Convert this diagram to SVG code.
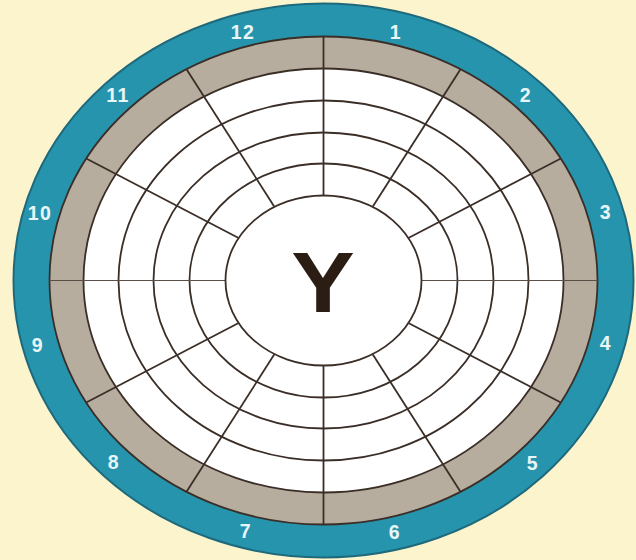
<svg xmlns="http://www.w3.org/2000/svg" width="636" height="560" viewBox="0 0 636 560">
<style>
.ring{fill:none;stroke:#3a2e27;stroke-width:1.8}
.wfill{fill:#ffffff;stroke:#3a2e27;stroke-width:1.8}
.rad line{stroke:#3a2e27;stroke-width:1.8}
.lbl{font-family:"Liberation Sans",Arial,sans-serif;font-weight:bold;font-size:19.5px;fill:#e8f6f7;text-anchor:middle;letter-spacing:1.5px}
</style>
<rect width="636" height="560" fill="#fcf4cd"/>
<g id="chart" transform="translate(323.5,280.5)">
  <ellipse id="teal-ring" rx="310" ry="277" fill="#2794ae" stroke="#1e6a7c" stroke-width="2"/>
  <ellipse id="gray-ring" rx="274" ry="244" fill="#b7ad9f" stroke="#3a2e27" stroke-width="1.8"/>
  <ellipse id="field" rx="240" ry="212" class="wfill"/>
  <ellipse rx="205" ry="180" class="ring"/>
  <ellipse rx="170" ry="148" class="ring"/>
  <ellipse rx="134" ry="117" class="ring"/>
  <g id="connectors" class="rad">
    <line x1="0" y1="-85" x2="0" y2="-244"/>
    <line x1="49" y1="-73.6" x2="137" y2="-211.3"/>
    <line x1="84.9" y1="-42.5" x2="237.3" y2="-122"/>
    <line x1="98" y1="0" x2="274" y2="0" style="stroke-width:1.1;stroke:#5a4f48"/>
    <line x1="84.9" y1="42.5" x2="237.3" y2="122"/>
    <line x1="49" y1="73.6" x2="137" y2="211.3"/>
    <line x1="0" y1="85" x2="0" y2="244"/>
    <line x1="-49" y1="73.6" x2="-137" y2="211.3"/>
    <line x1="-84.9" y1="42.5" x2="-237.3" y2="122"/>
    <line x1="-98" y1="0" x2="-274" y2="0" style="stroke-width:1.1;stroke:#5a4f48"/>
    <line x1="-84.9" y1="-42.5" x2="-237.3" y2="-122"/>
    <line x1="-49" y1="-73.6" x2="-137" y2="-211.3"/>
  </g>
  <g id="center">
    <ellipse rx="98" ry="85" class="wfill"/>
  </g>
</g>
<text id="center-label" transform="translate(323,312) scale(1.12,1)" x="0" y="0" font-family="'Liberation Sans',Arial,sans-serif" font-weight="bold" font-size="85" fill="#2b1c14" text-anchor="middle">Y</text>
<g id="labels" class="lbl">
  <g id="s1"><text x="396" y="38.5">1</text></g>
  <g id="s2"><text x="526" y="102">2</text></g>
  <g id="s3"><text x="606" y="219">3</text></g>
  <g id="s4"><text x="606" y="350">4</text></g>
  <g id="s5"><text x="533" y="470">5</text></g>
  <g id="s6"><text x="395" y="538.5">6</text></g>
  <g id="s7"><text x="246" y="538">7</text></g>
  <g id="s8"><text x="114" y="469">8</text></g>
  <g id="s9"><text x="38" y="351.5">9</text></g>
  <g id="s10"><text x="40" y="220">10</text></g>
  <g id="s11"><text x="118" y="101.5">11</text></g>
  <g id="s12"><text x="243" y="39">12</text></g>
</g>
</svg>
